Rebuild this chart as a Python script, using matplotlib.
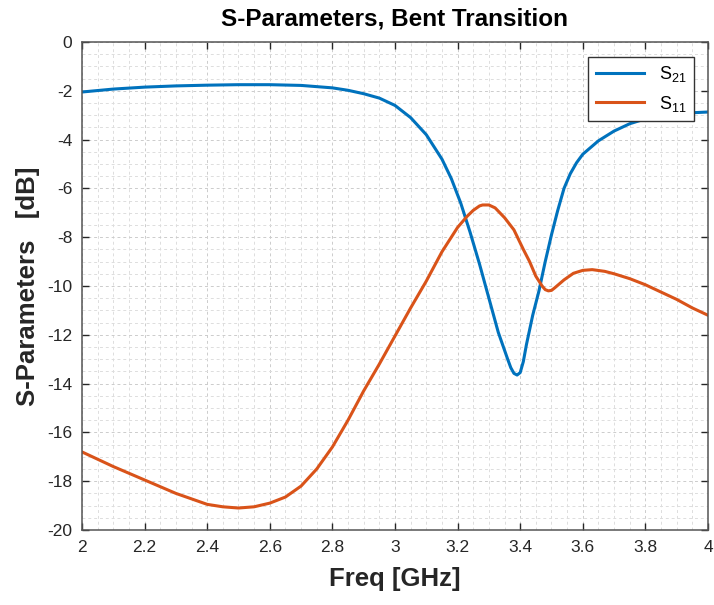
import matplotlib
matplotlib.use("Agg")
import matplotlib.pyplot as plt
from matplotlib.ticker import MultipleLocator

# values
freq_s21 = [2.00, 2.10, 2.20, 2.30, 2.40, 2.50, 2.60, 2.70, 2.80, 2.85, 2.90, 2.95,
            3.00, 3.05, 3.10, 3.15, 3.18, 3.21, 3.24, 3.27, 3.30, 3.33, 3.36, 3.37,
            3.38, 3.39, 3.40, 3.41, 3.42, 3.44, 3.46, 3.48, 3.50, 3.52, 3.54, 3.56,
            3.58, 3.60, 3.65, 3.70, 3.75, 3.80, 3.85, 3.90, 3.95, 4.00]
s21 = [-2.05, -1.93, -1.85, -1.80, -1.77, -1.75, -1.75, -1.78, -1.88, -1.98, -2.12, -2.30,
       -2.60, -3.10, -3.80, -4.80, -5.60, -6.60, -7.80, -9.10, -10.5, -11.9, -13.0, -13.35,
       -13.58, -13.65, -13.55, -13.1, -12.4, -11.2, -10.2, -9.00, -7.90, -6.90, -6.00, -5.40,
       -4.95, -4.60, -4.05, -3.65, -3.35, -3.15, -3.02, -2.95, -2.90, -2.87]

freq_s11 = [2.00, 2.10, 2.20, 2.30, 2.40, 2.45, 2.50, 2.55, 2.60, 2.65, 2.70, 2.75,
            2.80, 2.85, 2.90, 2.95, 3.00, 3.05, 3.10, 3.15, 3.20, 3.23, 3.25, 3.27,
            3.28, 3.30, 3.32, 3.35, 3.38, 3.41, 3.43, 3.45, 3.47, 3.48, 3.49, 3.50,
            3.51, 3.54, 3.57, 3.60, 3.63, 3.67, 3.70, 3.75, 3.80, 3.85, 3.90, 3.95, 4.00]
s11 = [-16.8, -17.4, -17.95, -18.5, -18.95, -19.05, -19.1, -19.05, -18.9, -18.65, -18.2, -17.5,
       -16.6, -15.5, -14.3, -13.2, -12.05, -10.9, -9.80, -8.60, -7.60, -7.15, -6.90, -6.72,
       -6.68, -6.68, -6.80, -7.20, -7.70, -8.50, -9.00, -9.60, -10.0, -10.15, -10.2, -10.18,
       -10.08, -9.75, -9.48, -9.36, -9.33, -9.40, -9.50, -9.70, -9.95, -10.25, -10.55, -10.9, -11.2]

x_ticks = [2.0, 2.2, 2.4, 2.6, 2.8, 3.0, 3.2, 3.4, 3.6, 3.8, 4.0]
x_labels = ['2', '2.2', '2.4', '2.6', '2.8', '3', '3.2', '3.4', '3.6', '3.8', '4']
y_ticks = [-20, -18, -16, -14, -12, -10, -8, -6, -4, -2, 0]

plt.rcParams['font.family'] = ['Liberation Sans', 'DejaVu Sans']
plt.rcParams['mathtext.default'] = 'regular'
plt.rcParams['axes.unicode_minus'] = False

fig = plt.figure(figsize=(7.14, 6.05), dpi=100)
ax = fig.add_axes([0.1148, 0.124, 0.8768, 0.8066])

ax.plot(freq_s21, s21, color='#0072BD', lw=2.2, label='S$_{21}$')
ax.plot(freq_s11, s11, color='#D95319', lw=2.2, label='S$_{11}$')

ax.set_xlim(2, 4)
ax.set_ylim(-20, 0)
ax.set_xticks(x_ticks)
ax.set_xticklabels(x_labels)
ax.set_yticks(y_ticks)
ax.xaxis.set_minor_locator(MultipleLocator(0.05))
ax.yaxis.set_minor_locator(MultipleLocator(0.5))

ax.grid(True, which='major', ls=(0, (3, 3)), color='#cccccc', lw=0.7)
ax.grid(True, which='minor', ls=(0, (3, 3)), color='#dddddd', lw=0.7)
ax.tick_params(which='major', direction='in', length=5, top=True, right=True,
               labelsize=12.5, colors='#262626', width=1, pad=7)
ax.tick_params(which='minor', length=0)
for s in ax.spines.values():
    s.set_color('#555555')
    s.set_linewidth(1.1)

ax.set_title('S-Parameters, Bent Transition', fontsize=17.5, fontweight='bold', pad=12)
ax.set_xlabel('Freq [GHz]', fontsize=18.5, fontweight='bold', color='#262626', labelpad=9)
ax.set_ylabel('S-Parameters   [dB]', fontsize=18.5, fontweight='bold', color='#262626', labelpad=5)

leg = ax.legend(loc='upper right', bbox_to_anchor=(0.977, 0.97), borderaxespad=0,
                fancybox=False, fontsize=13, handlelength=2.7, framealpha=1,
                labelspacing=0.55, borderpad=0.4)
leg.get_frame().set_edgecolor('#333333')

fig.savefig('out.png', dpi=100)
